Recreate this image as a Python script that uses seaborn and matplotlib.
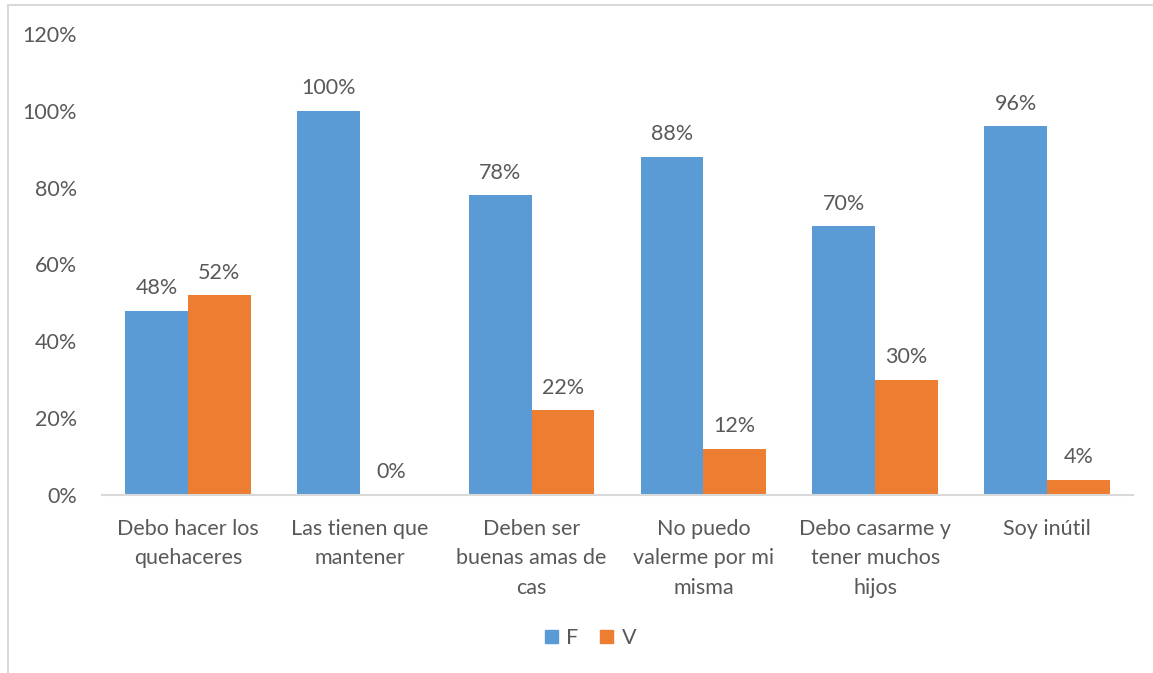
import pandas as pd
import matplotlib.pyplot as plt
import matplotlib.patches as mpatches
import seaborn as sns

categorias = ["Debo hacer los\nquehaceres", "Las tienen que\nmantener", "Deben ser\nbuenas amas de\ncas",
              "No puedo\nvalerme por mi\nmisma", "Debo casarme y\ntener muchos\nhijos", "Soy inútil"]
valores_f = [48, 100, 78, 88, 70, 96]
valores_v = [52, 0, 22, 12, 30, 4]
series = ["F", "V"]
colores = ["#5B9BD5", "#ED7D31"]
ticks_y = [0, 20, 40, 60, 80, 100, 120]

df = pd.DataFrame({
    "Categoria": categorias * 2,
    "Serie": ["F"] * len(categorias) + ["V"] * len(categorias),
    "Valor": valores_f + valores_v,
})

sns.set_style("white")
plt.rcParams["font.family"] = ["Lato", "DejaVu Sans"]
gris = "#595959"
fs = 15.5

fig = plt.figure(figsize=(11.53, 6.73), dpi=100)
ax = fig.add_axes([0.0885, 0.2645, 0.894, 0.685])

sns.barplot(data=df, x="Categoria", y="Valor", hue="Serie", palette=colores,
            width=0.73, saturation=1, ax=ax, legend=False, linewidth=0)

for cont in ax.containers:
    ax.bar_label(cont, labels=[f"{v:.0f}%" for v in cont.datavalues],
                 padding=9, fontsize=fs, color=gris)

ax.set_ylim(0, 120)
ax.set_yticks(ticks_y)
ax.set_yticklabels([f"{t}%" for t in ticks_y])
ax.set_xlim(-0.5, len(categorias) - 0.5)
ax.set_xlabel("")
ax.set_ylabel("")
ax.tick_params(axis="both", length=0, labelsize=fs, labelcolor=gris)
ax.tick_params(axis="x", pad=17)
ax.tick_params(axis="y", pad=18)
for t in ax.get_xticklabels():
    t.set_linespacing(1.6)
    t.set_verticalalignment("top")

for lado in ["top", "right", "left"]:
    ax.spines[lado].set_visible(False)
ax.spines["bottom"].set_color("#D9D9D9")
ax.spines["bottom"].set_linewidth(1.5)

handles = [mpatches.Patch(color=c, label=s) for s, c in zip(series, colores)]
fig.legend(handles=handles, loc="center", bbox_to_anchor=(0.512, 0.052), ncol=2,
           frameon=False, fontsize=fs, handlelength=0.6, handleheight=0.6,
           handletextpad=0.4, columnspacing=1.0, labelcolor=gris)

borde = mpatches.Rectangle((8 / 1153, -0.05), 1.2, 1 - 5 / 673 + 0.05, transform=fig.transFigure,
                           fill=False, edgecolor="#D9D9D9", linewidth=1.5)
fig.patches.append(borde)

fig.savefig("out.png", dpi=100)
